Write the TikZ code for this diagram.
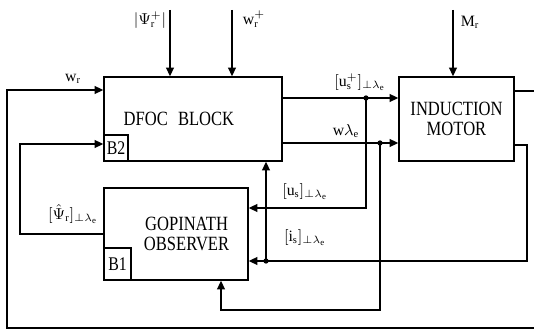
\documentclass[tikz,border=0pt]{standalone}
\usepackage{fontspec}
\setmainfont{Liberation Serif}
\newfontfamily\blockfont[FakeStretch=0.82]{Liberation Serif}
\usetikzlibrary{arrows.meta,positioning}

\tikzset{
  block/.style={draw, line width=0.8pt, align=center, inner sep=0pt, font=\blockfont\fontsize{11.5}{11.5}\selectfont},
  tagbox/.style={draw, line width=0.8pt, inner sep=0pt, font=\blockfont\fontsize{11}{11}\selectfont},
  sig/.style={line width=0.8pt, -{Triangle[length=5pt,width=4.5pt]}},
  jdot/.style={circle, fill, inner sep=0pt, minimum size=3pt},
  lbl/.style={inner sep=0.5pt, font=\fontsize{9}{10}\selectfont}
}

\begin{document}
\begin{tikzpicture}[x=0.02cm,y=-0.02cm]
\path[use as bounding box] (0,0) rectangle (534,333);
\clip (0,0) rectangle (534,333);

% blocks
\node[block, minimum width=3.56cm, minimum height=1.68cm] (dfoc) at (193,119) {\hspace*{-16pt}DFOC\enspace BLOCK};
\node[block, minimum width=2.3cm, minimum height=1.68cm] (motor) at (456.5,119) {INDUCTION\\MOTOR};
\node[block, minimum width=2.88cm, minimum height=1.84cm] (gop) at (176,234) {\hspace*{12pt}GOPINATH\\\hspace*{12pt}OBSERVER};
\node[tagbox, minimum width=0.48cm, minimum height=0.52cm, anchor=south west] (b2) at (dfoc.south west) {B2};
\node[tagbox, minimum width=0.54cm, minimum height=0.64cm, anchor=south west] (b1) at (gop.south west) {B1};

% references and load
\coordinate (psiin) at (170,10);
\coordinate (wrefin) at (232,10);
\coordinate (mrin) at (453,10);
\draw[sig] (psiin) -- (psiin |- dfoc.north);
\draw[sig] (wrefin) -- (wrefin |- dfoc.north);
\draw[sig] (mrin) -- (mrin |- motor.north);
\node[lbl] (psilbl) at (150,20) {$|\Psi_{\mathrm{r}}^{+}|$};
\node[lbl] (wreflbl) at (254,19) {$\mathrm{w}_{\mathrm{r}}^{+}$};
\node[lbl] (mrlbl) at (470,22) {$\mathrm{M}_{\mathrm{r}}$};

% control outputs
\coordinate (us1) at (366,98);
\coordinate (wl1) at (380,143);
\draw[sig] (dfoc.east |- us1) -- (motor.west |- us1);
\draw[sig] (dfoc.east |- wl1) -- (motor.west |- wl1);
\node[jdot] (usdot) at (us1) {};
\node[jdot] (wldot) at (wl1) {};
\coordinate (usbend) at (366,208);
\draw[sig] (usdot.center) -- (usbend) -- (gop.east |- usbend);
\coordinate (wlbend) at (380,310);
\coordinate (wlin) at (221,310);
\draw[sig] (wldot.center) -- (wlbend) -- (wlin) -- (wlin |- gop.south);

% measured current
\coordinate (isright) at (527,145);
\coordinate (isbend) at (527,261);
\node[jdot] (isdot) at (266,261) {};
\draw[sig] (motor.east |- isright) -- (isright) -- (isbend) -- (gop.east |- isbend);
\draw[sig] (isdot.center) -- (isdot |- dfoc.south);

% speed loop
\coordinate (wrright) at (540,91);
\coordinate (wrbotR) at (540,328);
\coordinate (wrbotL) at (7,328);
\coordinate (wrleft) at (7,90);
\draw[sig] (motor.east |- wrright) -- (wrright) -- (wrbotR) -- (wrbotL) -- (wrleft) -- (dfoc.west |- wrleft);

% estimated flux
\coordinate (psibend1) at (20,234);
\coordinate (psibend2) at (20,144);
\draw[sig] (gop.west) -- (psibend1) -- (psibend2) -- (b2.west |- psibend2);

% labels
\node[lbl] (wrlbl) at (73,79) {$\mathrm{w}_{\mathrm{r}}$};
\node[lbl] (psihatlbl) at (73,214) {$[\hat{\Psi}_{\mathrm{r}}]_{\perp\lambda_{\mathrm{e}}}$};
\node[lbl] (uspluslbl) at (360,82) {$[\mathrm{u}_{\mathrm{s}}^{+}]_{\perp\lambda_{\mathrm{e}}}$};
\node[lbl] (wllbl) at (346,131) {$\mathrm{w}\lambda_{\mathrm{e}}$};
\node[lbl] (uslbl) at (305,192) {$[\mathrm{u}_{\mathrm{s}}]_{\perp\lambda_{\mathrm{e}}}$};
\node[lbl] (islbl) at (305,238) {$[\mathrm{i}_{\mathrm{s}}]_{\perp\lambda_{\mathrm{e}}}$};
\end{tikzpicture}
\end{document}
